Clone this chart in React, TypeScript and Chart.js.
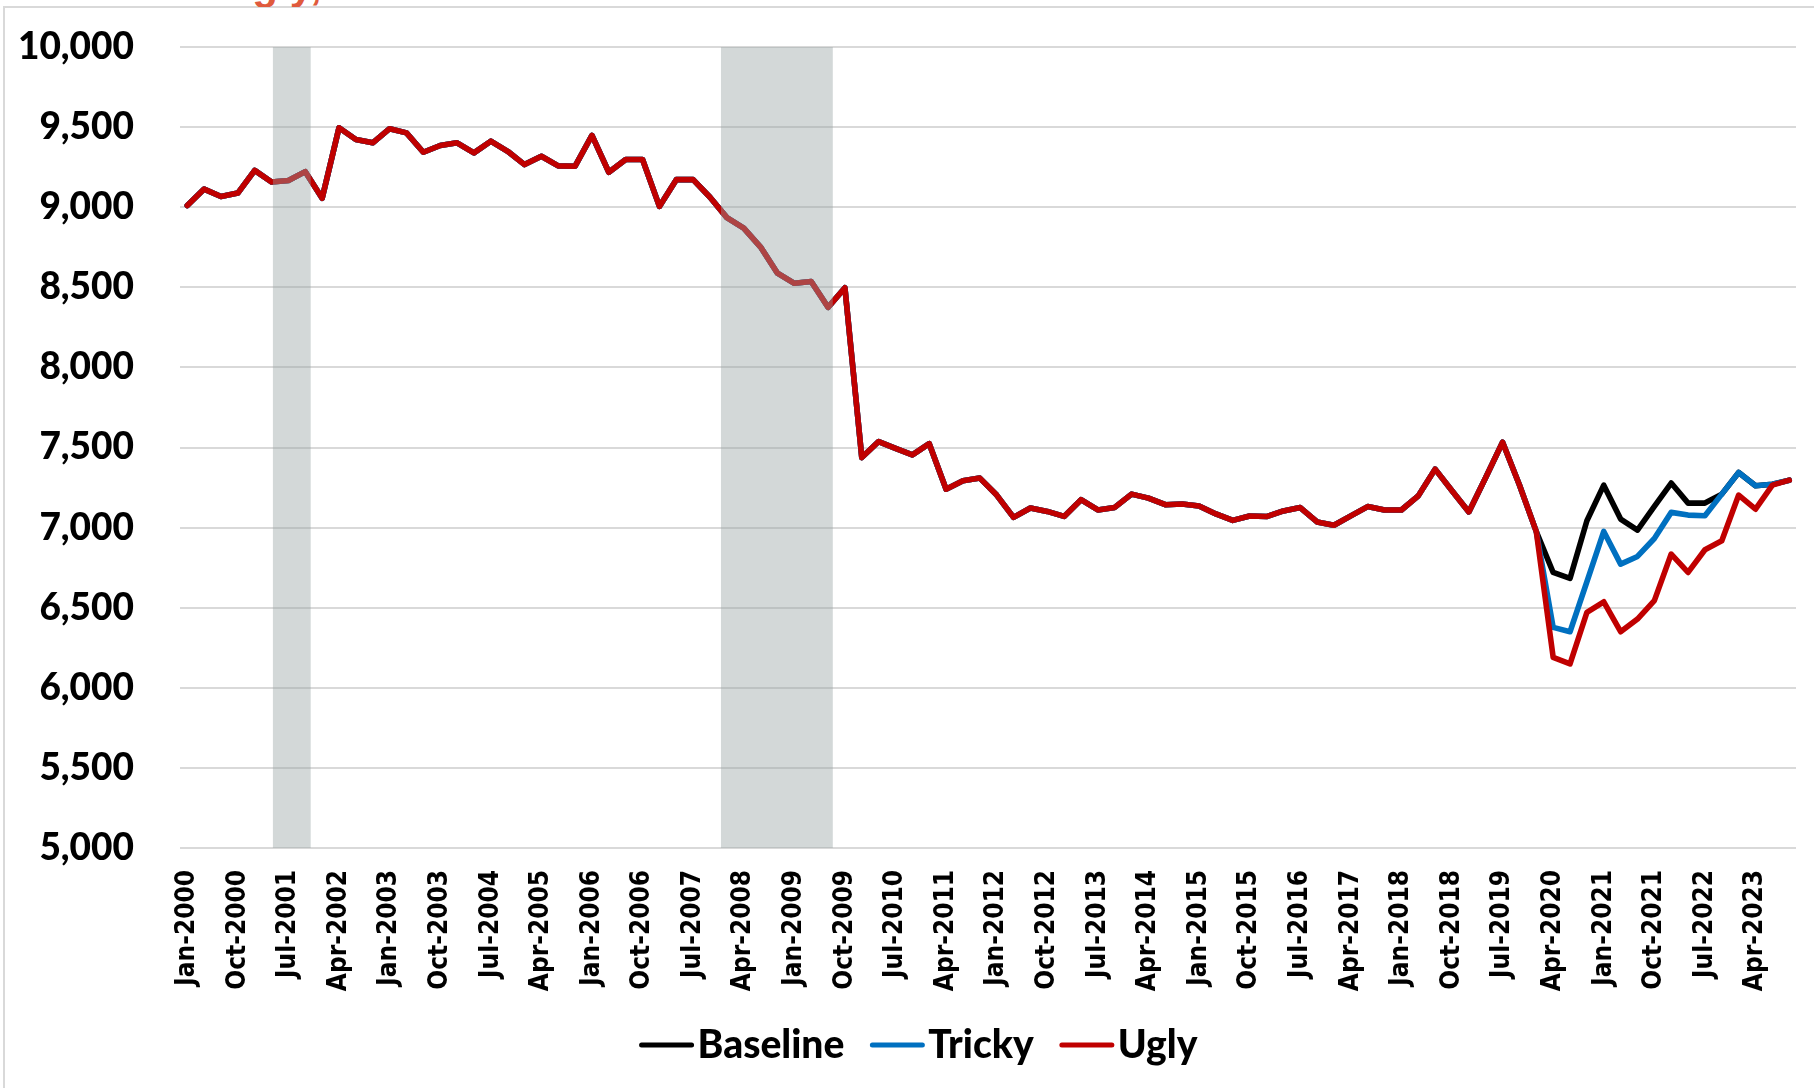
import React, { useEffect, useRef } from "react";
import { Chart, registerables } from "chart.js";

Chart.register(...registerables);

// ---- Data (quarterly, Q1 2000 .. Q4 2023) ----
const tickLabels = [
  "Jan-2000", "Oct-2000", "Jul-2001", "Apr-2002", "Jan-2003", "Oct-2003", "Jul-2004", "Apr-2005",
  "Jan-2006", "Oct-2006", "Jul-2007", "Apr-2008", "Jan-2009", "Oct-2009", "Jul-2010", "Apr-2011",
  "Jan-2012", "Oct-2012", "Jul-2013", "Apr-2014", "Jan-2015", "Oct-2015", "Jul-2016", "Apr-2017",
  "Jan-2018", "Oct-2018", "Jul-2019", "Apr-2020", "Jan-2021", "Oct-2021", "Jul-2022", "Apr-2023",
];
const quartersPerTick = 3;

// Shared history, Jan-2000 .. Jan-2020 (81 quarters)
const sharedHistory = [
  9010, 9113, 9067, 9088, 9230, 9157, 9167, 9222, 9056, 9496,
  9423, 9402, 9490, 9464, 9343, 9385, 9402, 9339, 9412, 9349,
  9266, 9318, 9258, 9256, 9448, 9218, 9298, 9298, 9005, 9172,
  9172, 9062, 8935, 8870, 8751, 8588, 8525, 8536, 8375, 8497,
  7437, 7537, 7495, 7454, 7524, 7240, 7292, 7309, 7203, 7064,
  7122, 7101, 7070, 7174, 7110, 7126, 7209, 7184, 7143, 7147,
  7135, 7085, 7045, 7072, 7069, 7104, 7125, 7035, 7015, 7073,
  7131, 7110, 7110, 7198, 7365, 7230, 7098, 7313, 7533, 7266,
  6975,
];
// Scenario paths, Apr-2020 .. Oct-2023 (15 quarters)
const baselineTail = [6720, 6683, 7043, 7265, 7053, 6984, 7132, 7278, 7153, 7153, 7209, 7344, 7261, 7271, 7296];
const trickyTail = [6377, 6350, 6662, 6976, 6772, 6820, 6932, 7095, 7078, 7074, 7209, 7344, 7261, 7271, 7296];
const uglyTail = [6190, 6149, 6471, 6537, 6350, 6429, 6544, 6835, 6720, 6862, 6918, 7203, 7115, 7265, 7296];

const seriesNames = ["Baseline", "Tricky", "Ugly"];
const seriesColors = ["#000000", "#0070C0", "#C00000"];

// Recession shading, in quarter-index units
const recessionStarts = [5.08, 31.65];
const recessionEnds = [7.32, 38.28];

const yMin = 5000;
const yMax = 10000;
const yStep = 500;

const toPoints = (vals: number[]) => vals.map((v, i) => ({ x: i, y: v }));

const shadePlugin = {
  id: "recessionShade",
  afterDatasetsDraw(chart: any) {
    const { ctx, chartArea, scales } = chart;
    ctx.save();
    ctx.fillStyle = "rgba(151,161,161,0.42)";
    recessionStarts.forEach((s, i) => {
      const x1 = scales.x.getPixelForValue(s);
      const x2 = scales.x.getPixelForValue(recessionEnds[i]);
      ctx.fillRect(x1, chartArea.top, x2 - x1, chartArea.bottom - chartArea.top);
    });
    ctx.restore();
  },
};

const legendPlugin = {
  id: "lineLegend",
  afterDraw(chart: any) {
    const ctx = chart.ctx;
    ctx.save();
    ctx.font = "900 39px Lato";
    const markerW = 56;
    const markerGap = 3;
    const itemGap = 25;
    const items = chart.data.datasets.map((ds: any) => ({
      label: ds.label,
      color: ds.borderColor,
      w: ctx.measureText(ds.label).width,
    }));
    const total =
      items.reduce((s: number, it: any) => s + markerW + markerGap + it.w, 0) +
      itemGap * (items.length - 1);
    let x = 918 - total / 2;
    const y = 1045;
    for (const it of items) {
      ctx.strokeStyle = it.color;
      ctx.lineWidth = 5;
      ctx.lineCap = "round";
      ctx.beginPath();
      ctx.moveTo(x + 3, y);
      ctx.lineTo(x + markerW - 3, y);
      ctx.stroke();
      x += markerW + markerGap;
      ctx.fillStyle = "#000";
      ctx.textAlign = "left";
      ctx.textBaseline = "middle";
      ctx.fillText(it.label, x, y);
      x += it.w + itemGap;
    }
    ctx.restore();
  },
};

export default function App() {
  const canvasRef = useRef<HTMLCanvasElement | null>(null);

  useEffect(() => {
    document.body.style.margin = "0";
    const canvas = canvasRef.current;
    if (!canvas) return;

    const tails = [baselineTail, trickyTail, uglyTail];
    const datasets = seriesNames.map((name, i) => ({
      label: name,
      data: toPoints([...sharedHistory, ...tails[i]]),
      borderColor: seriesColors[i],
      backgroundColor: seriesColors[i],
      borderWidth: 5.6,
      pointRadius: 0,
      tension: 0,
      borderJoinStyle: "round" as const,
      borderCapStyle: "round" as const,
      order: seriesNames.length - i,
    }));

    const tickValues = tickLabels.map((_, i) => i * quartersPerTick);

    const chart = new Chart(canvas, {
      type: "line",
      data: { datasets },
      options: {
        responsive: false,
        animation: false,
        layout: { padding: { top: 47, right: 18, bottom: 90, left: 0 } },
        plugins: {
          legend: { display: false },
          tooltip: { enabled: false },
        },
        scales: {
          x: {
            type: "linear",
            min: -0.43,
            max: 95.4,
            afterBuildTicks: (scale: any) => {
              scale.ticks = tickValues.map((v) => ({ value: v }));
            },
            afterFit: (scale: any) => {
              scale.height = 150;
              scale.paddingLeft = 0;
              scale.paddingRight = 0;
            },
            grid: { display: false, drawTicks: false },
            border: { display: false },
            ticks: {
              autoSkip: false,
              minRotation: 90,
              maxRotation: 90,
              padding: 22,
              color: "#000",
              font: { family: "DejaVu Sans Condensed, DejaVu Sans", weight: "bold", size: 26 },
              callback: (v: any) => tickLabels[Math.round(Number(v) / quartersPerTick)] ?? "",
            },
          },
          y: {
            min: yMin,
            max: yMax,
            afterFit: (scale: any) => {
              scale.width = 180;
              scale.paddingTop = 0;
              scale.paddingBottom = 0;
            },
            grid: { color: "#D9D9D9", lineWidth: 2, drawTicks: false },
            border: { display: false },
            ticks: {
              stepSize: yStep,
              padding: 46,
              color: "#000",
              font: { family: "Lato", weight: "900", size: 37 },
              callback: (v: any) => Number(v).toLocaleString("en-US"),
            },
          },
        },
      },
      plugins: [shadePlugin, legendPlugin],
    });

    return () => chart.destroy();
  }, []);

  return (
    <div style={{ position: "relative", width: 1814, height: 1088, overflow: "hidden", background: "#fff" }}>
      <div
        style={{
          position: "absolute",
          left: 3,
          top: 6,
          width: 1840,
          height: 1120,
          border: "2px solid #D9D9D9",
          boxSizing: "border-box",
        }}
      />
      <div style={{ position: "absolute", left: 0, top: 0, width: 600, height: 7, overflow: "hidden" }}>
        <span
          style={{
            position: "absolute",
            left: 222,
            top: -35,
            font: 'bold 42px "Liberation Sans"',
            lineHeight: "40px",
            color: "#E05A3C",
            whiteSpace: "nowrap",
          }}
        >
          Ugly,
        </span>
      </div>
      <canvas
        ref={canvasRef}
        width={1814}
        height={1088}
        style={{ position: "absolute", left: 0, top: 0, width: 1814, height: 1088 }}
      />
    </div>
  );
}
